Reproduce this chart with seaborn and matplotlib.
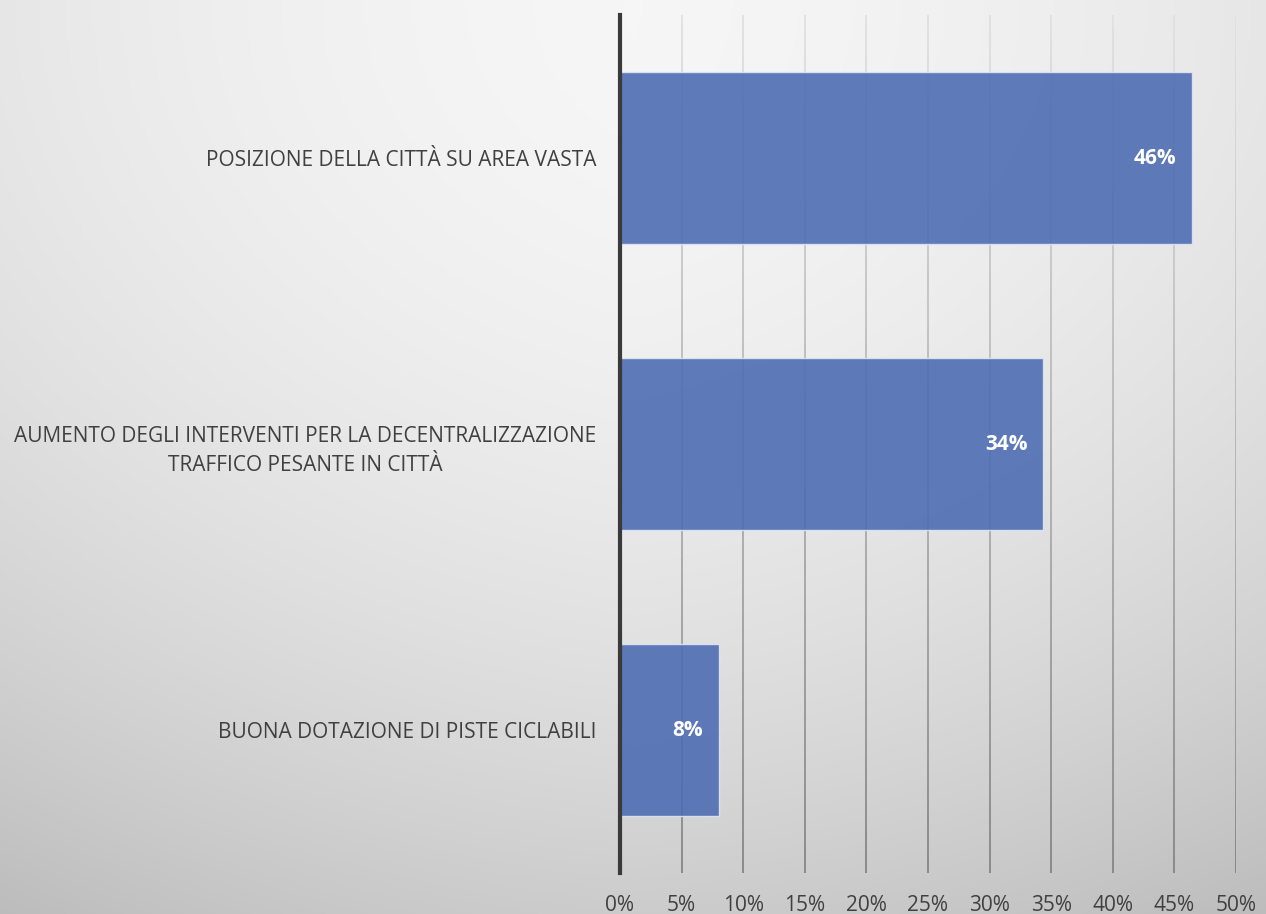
import numpy as np
import pandas as pd
import matplotlib
matplotlib.use("Agg")
import matplotlib.pyplot as plt
from matplotlib.collections import LineCollection
import seaborn as sns

categories = [
    "POSIZIONE DELLA CITTÀ SU AREA VASTA",
    "AUMENTO DEGLI INTERVENTI PER LA DECENTRALIZZAZIONE\nTRAFFICO PESANTE IN CITTÀ",
    "BUONA DOTAZIONE DI PISTE CICLABILI",
]
values = [46.4, 34.3, 8.0]
value_labels = ["46%", "34%", "8%"]
x_ticks = [0, 5, 10, 15, 20, 25, 30, 35, 40, 45, 50]
x_tick_labels = [f"{t}%" for t in x_ticks]

sns.set_theme(style="white")
plt.rcParams["font.family"] = ["Open Sans", "DejaVu Sans"]

W, H, DPI = 1266, 914, 100
fig = plt.figure(figsize=(W / DPI, H / DPI), dpi=DPI)

# soft radial background, lightest at the top centre
bg = fig.add_axes([0, 0, 1, 1], zorder=-10)
yy, xx = np.mgrid[0:1:300j, 0:1:400j]
d2 = (xx - 0.5) ** 2 + yy ** 2
shade = np.clip(0.965 - 0.165 * d2 - 0.04 * np.abs(xx - 0.5), 0, 1)
bg.imshow(np.dstack([shade] * 3), extent=[0, 1, 1, 0], aspect="auto")
bg.set_xlim(0, 1)
bg.set_ylim(1, 0)
bg.axis("off")

ax = fig.add_axes([620 / W, 1 - 873 / H, 616 / W, 858 / H])
ax.patch.set_alpha(0)

df = pd.DataFrame({"cat": categories, "val": values})
sns.barplot(data=df, x="val", y="cat", orient="h", width=0.6,
            color="#4f6db2", saturation=1, alpha=0.9,
            edgecolor="#dfe5f2", linewidth=1.0, ax=ax, zorder=3)

ax.set_xlim(0, 50)
ax.set_ylim(2.5, -0.5)

# vertical gridlines fading from light at the top to darker at the bottom
n = 60
segs, cols = [], []
for t in x_ticks[1:]:
    ys = np.linspace(-0.5, 2.5, n + 1)
    for i in range(n):
        segs.append([(t, ys[i]), (t, ys[i + 1])])
        f = (i + 0.5) / n
        g = 0.88 - 0.36 * f
        cols.append((g, g, g, 1.0))
lc = LineCollection(segs, colors=cols, linewidths=1.3, zorder=1)
ax.add_collection(lc)

for sp in ["top", "right", "bottom"]:
    ax.spines[sp].set_visible(False)
ax.spines["left"].set_color("#3a3a3a")
ax.spines["left"].set_linewidth(3)
ax.spines["left"].set_zorder(5)

ax.set_xticks(x_ticks)
ax.set_xticklabels(x_tick_labels)
ax.tick_params(axis="x", length=0, pad=16, labelsize=15, labelcolor="#404040")
ax.tick_params(axis="y", length=0, pad=17, labelsize=15, labelcolor="#404040")
for lab in ax.get_yticklabels():
    lab.set_multialignment("center")
    lab.set_linespacing(1.55)
ax.set_xlabel("")
ax.set_ylabel("")

for i, (v, txt) in enumerate(zip(values, value_labels)):
    ax.annotate(txt, xy=(v, i), xytext=(-11, 0), textcoords="offset points",
                ha="right", va="center", color="white", fontsize=15,
                fontweight="bold", zorder=6)

fig.savefig("out.png", dpi=DPI)
